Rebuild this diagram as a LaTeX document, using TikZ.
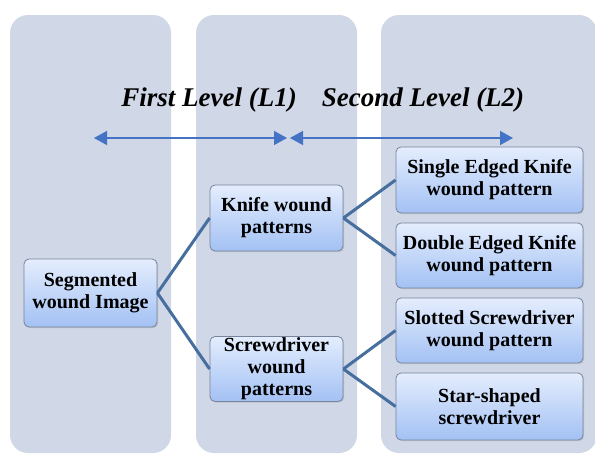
\documentclass[tikz,border=0pt]{standalone}
\usepackage{fontspec}
\setmainfont{Liberation Serif}
\usetikzlibrary{arrows.meta,shadows}
\definecolor{panelc}{RGB}{208,215,230}
\definecolor{boxtop}{RGB}{228,237,253}
\definecolor{boxbot}{RGB}{163,193,244}
\definecolor{boxline}{RGB}{120,132,155}
\definecolor{linkc}{RGB}{70,110,158}
\definecolor{arrowc}{RGB}{68,114,196}
\tikzset{
  panel/.style={fill=panelc, draw=none, rounded corners=18pt},
  wbox/.style={draw=boxline, line width=0.8pt, rounded corners=5pt,
    top color=boxtop, bottom color=boxbot, align=center, inner sep=0pt,
    font=\fontsize{20}{22}\selectfont\bfseries,
    drop shadow={shadow xshift=1.2pt, shadow yshift=-1.2pt, opacity=0.25, fill=gray}},
  link/.style={draw=linkc, line width=3pt},
  levelarrow/.style={draw=arrowc, line width=1.4pt, {Triangle[length=13pt,width=14pt]}-{Triangle[length=13pt,width=14pt]}},
  title/.style={font=\fontsize{27}{29}\selectfont\bfseries\itshape, inner sep=0pt}
}
\begin{document}
\begin{tikzpicture}[x=1pt,y=-1pt]
\useasboundingbox (0,0) rectangle (595,455);
\begin{scope}
\clip (0,0) rectangle (595,455);
\fill[panel] (10,15) rectangle (171,453);
\fill[panel] (196,15) rectangle (357,453);
\fill[panel] (381,15) rectangle (597,453);
\end{scope}
\node[title] (t1) at (209,100) {First Level (L1)};
\node[title] (t2) at (423,100) {Second Level (L2)};
\coordinate (a1) at (94,138);
\coordinate (a2) at (287,138);
\coordinate (a3) at (290,138);
\coordinate (a4) at (513,138);
\draw[levelarrow] (a1) -- (a2);
\draw[levelarrow] (a3) -- (a4);
\node[wbox, minimum width=133pt, minimum height=68pt] (seg) at (90.5,293) {Segmented\\wound Image};
\node[wbox, minimum width=133pt, minimum height=66pt] (knife) at (276.5,218) {Knife wound\\patterns};
\node[wbox, minimum width=133pt, minimum height=65pt] (screw) at (276.5,369) {Screwdriver\\wound\\patterns};
\node[wbox, minimum width=187pt, minimum height=66pt] (b1) at (489.5,180) {Single Edged Knife\\wound pattern};
\node[wbox, minimum width=187pt, minimum height=65pt] (b2) at (489.5,255.5) {Double Edged Knife\\wound pattern};
\node[wbox, minimum width=187pt, minimum height=65pt] (b3) at (489.5,330.5) {Slotted Screwdriver\\wound pattern};
\node[wbox, minimum width=187pt, minimum height=67pt] (b4) at (489.5,406.5) {Star-shaped\\screwdriver};
\draw[link] (seg.east) -- (knife.west);
\draw[link] (seg.east) -- (screw.west);
\draw[link] (knife.east) -- (b1.west);
\draw[link] (knife.east) -- (b2.west);
\draw[link] (screw.east) -- (b3.west);
\draw[link] (screw.east) -- (b4.west);
\end{tikzpicture}
\end{document}
